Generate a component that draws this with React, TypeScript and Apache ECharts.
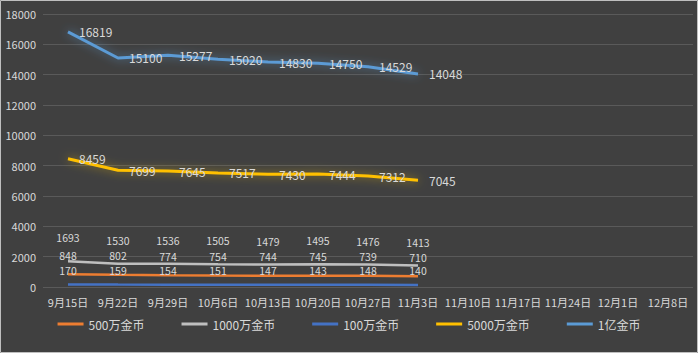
import React, { useEffect, useRef } from "react";
import * as echarts from "echarts";

const categories = ["9月15日", "9月22日", "9月29日", "10月6日", "10月13日", "10月20日", "10月27日", "11月3日", "11月10日", "11月17日", "11月24日", "12月1日", "12月8日"];
const s500w = [848, 802, 774, 754, 744, 745, 739, 710];
const s1000w = [1693, 1530, 1536, 1505, 1479, 1495, 1476, 1413];
const s100w = [170, 159, 154, 151, 147, 143, 148, 140];
const s5000w = [8459, 7699, 7645, 7517, 7430, 7444, 7312, 7045];
const s1yi = [16819, 15100, 15277, 15020, 14830, 14750, 14529, 14048];

const FONT = "'Noto Sans CJK SC', 'Noto Sans', sans-serif";
const TXT = "#d9d9d9";

export default function App() {
  const ref = useRef<HTMLDivElement>(null);
  useEffect(() => {
    if (!ref.current) return;
    const chart = echarts.init(ref.current, undefined, { renderer: "svg" });
    const labelTop = (distance: number) => ({ show: true, position: "top", distance, color: TXT, fontSize: 10.5, lineHeight: 11, fontFamily: FONT });
    const labelRight = { show: true, position: "right", distance: 11, color: TXT, fontSize: 12, fontFamily: FONT };
    const mk = (name: string, data: number[], color: string, label: any, glow?: string) => ({
      name,
      type: "line",
      data,
      symbol: "circle",
      symbolSize: 0.1,
      showSymbol: true,
      color,
      itemStyle: { color },
      lineStyle: glow
        ? { width: 3, color, shadowBlur: 10, shadowColor: glow }
        : { width: 2.5, color },
      label,
      labelLayout: { hideOverlap: false },
    });
    chart.setOption({
      animation: false,
      backgroundColor: "#404040",
      textStyle: { fontFamily: FONT },
      graphic: [
        { type: "rect", shape: { x: 0.5, y: 0.5, width: 697, height: 352 }, style: { fill: "none", stroke: "#bfbfbf", lineWidth: 1 }, silent: true },
      ],
      grid: { left: 43, right: 5, top: 14, bottom: 66 },
      legend: {
        bottom: 18,
        left: "center",
        itemGap: 37,
        itemWidth: 26,
        itemHeight: 3,
        icon: "rect",
        textStyle: { color: TXT, fontSize: 12, fontFamily: FONT },
        data: ["500万金币", "1000万金币", "100万金币", "5000万金币", "1亿金币"],
      },
      xAxis: {
        type: "category",
        data: categories,
        boundaryGap: true,
        axisLine: { show: false },
        axisTick: { show: false },
        axisLabel: { color: TXT, fontSize: 11, margin: 9, interval: 0, fontFamily: FONT },
      },
      yAxis: {
        type: "value",
        min: 0,
        max: 18000,
        interval: 2000,
        axisLine: { show: false },
        axisTick: { show: false },
        axisLabel: { color: TXT, fontSize: 11, margin: 7, fontFamily: FONT, formatter: (v: number) => String(v) },
        splitLine: { lineStyle: { color: "#5a5a5a", width: 1 } },
      },
      series: [
        mk("500万金币", s500w, "#ed7d31", labelTop(13.5)),
        mk("1000万金币", s1000w, "#bfbfbf", labelTop(18)),
        mk("100万金币", s100w, "#4472c4", labelTop(8.5)),
        mk("5000万金币", s5000w, "#ffc000", labelRight, "rgba(255,200,0,0.55)"),
        mk("1亿金币", s1yi, "#5b9bd5", labelRight, "rgba(91,155,213,0.65)"),
      ],
    });
    return () => chart.dispose();
  }, []);
  return <div ref={ref} style={{ position: "fixed", left: 0, top: 0, width: 698, height: 353 }} />;
}
